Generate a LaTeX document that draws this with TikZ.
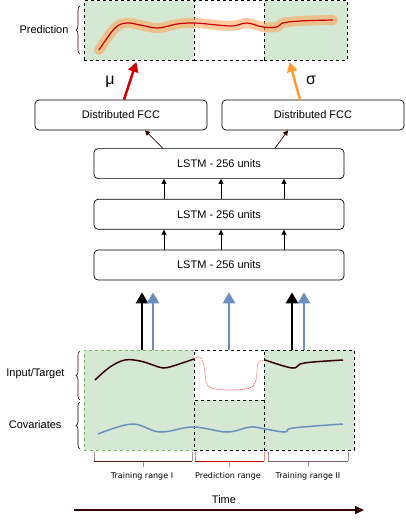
\documentclass[tikz,border=0pt]{standalone}
\usepackage{fontspec}
\setmainfont{Liberation Sans}
\newfontfamily\rangefont{DejaVu Sans}
\usetikzlibrary{arrows.meta, positioning, decorations.pathreplacing}
\definecolor{rangegreen}{HTML}{D5E8D4}
\definecolor{greenedge}{HTML}{82B366}
\definecolor{covblue}{HTML}{6C8EBF}
\definecolor{darkbrown}{HTML}{330000}
\definecolor{predred}{HTML}{CC0000}
\definecolor{sigorange}{HTML}{FF9933}
\definecolor{bandtan}{HTML}{FFA050}
\definecolor{trainbar}{HTML}{4D1A1A}
\definecolor{trainbarII}{HTML}{806060}
\tikzset{
    layer/.style={rectangle, draw, fill=white, rounded corners=4pt, minimum width=250pt, minimum height=30pt, inner sep=0pt, line width=0.7pt, font=\fontsize{11}{13}\selectfont},
    fcc/.style={layer, minimum width=172pt},
    region/.style={rectangle, draw, dashed, inner sep=0pt, outer sep=0pt, anchor=north west, line width=0.6pt},
    regiongreen/.style={region, fill=rangegreen},
    sidelab/.style={font=\fontsize{11}{13}\selectfont, anchor=east},
    rangelab/.style={font=\rangefont\fontsize{8}{10}\selectfont},
    arr/.style={-{Triangle[length=5pt, width=5pt]}, line width=0.7pt},
    fatarr/.style={-{Triangle[length=11pt, width=12pt]}, line width=2.5pt, shorten >=12pt},
    outarr/.style={-{Triangle[length=10pt, width=10pt]}, line width=2.5pt, shorten >=2pt},
    brace/.style={decorate, decoration={brace, amplitude=4pt}, darkbrown, line width=0.6pt},
    rangebar/.style={line width=0.8pt},
}

\begin{document}
\begin{tikzpicture}[x=1pt, y=-1pt]
\useasboundingbox (0,0) rectangle (406,520);

% ── Prediction panel ──
\node[regiongreen, minimum width=110pt, minimum height=59.5pt] (predL) at (84,0.5) {};
\node[region, minimum width=70pt, minimum height=59.5pt] (predM) at (194,0.5) {};
\node[regiongreen, minimum width=83pt, minimum height=59.5pt] (predR) at (264,0.5) {};
\draw[bandtan, opacity=0.55, line width=10pt, line cap=round] plot[smooth, tension=0.6] coordinates {(99,50) (115,28) (127,23) (140,25) (158,28) (177,24) (195,23) (217,25) (233,26) (247,23) (263,27) (277,27) (283,23) (300,21) (333,20)};
\draw[predred, line width=1.2pt] plot[smooth, tension=0.6] coordinates {(99,50) (115,28) (127,23) (140,25) (158,28) (177,24) (195,23) (217,25) (233,26) (247,23) (263,27) (277,27) (283,23) (300,21) (333,20)};
\draw[brace] (80,54) -- (80,6);
\node[sidelab] (predlab) at (72,30) {Prediction};

% ── Output layers ──
\node[fcc] (fccL) at (121,115) {Distributed FCC};
\node[fcc, minimum width=182pt] (fccR) at (313,115) {Distributed FCC};

% ── LSTM stack ──
\node[layer] (lstmA) at (219,265) {LSTM - 256 units};
\node[layer, above=20pt of lstmA] (lstmB) {LSTM - 256 units};
\node[layer, above=20pt of lstmB] (lstmC) {LSTM - 256 units};

\foreach \dx in {-55,2,65} {
    \draw[arr] ([xshift=\dx pt]lstmA.north) -- ([xshift=\dx pt]lstmB.south);
    \draw[arr] ([xshift=\dx pt]lstmB.north) -- ([xshift=\dx pt]lstmC.south);
}
\draw[arr, darkbrown] ([xshift=-56pt]lstmC.north) -- ([xshift=24pt]fccL.south);
\draw[arr, darkbrown] ([xshift=56pt]lstmC.north) -- ([xshift=-25pt]fccR.south);

% ── mu / sigma ──
\draw[outarr, predred] ([xshift=3pt]fccL.north) -- ([xshift=-2pt]predL.south);
\draw[outarr, sigorange] ([xshift=-13pt]fccR.north) -- ([xshift=-16.5pt]predR.south);
\node[font=\fontsize{16}{16}\selectfont] (mu) at (110,82) {μ};
\node[font=\fontsize{16}{16}\selectfont] (sigma) at (311,80) {σ};

% ── Input panel ──
\node[regiongreen, draw=greenedge, minimum width=110pt, minimum height=100pt] (inL) at (84,350) {};
\node[region, fill=white, minimum width=70pt, minimum height=50pt] (inM) at (194,350) {};
\node[regiongreen, minimum width=70pt, minimum height=50pt] (covM) at (194,400) {};
\node[regiongreen, minimum width=90pt, minimum height=100pt] (inR) at (264,350) {};

% target / covariates
\draw[darkbrown, line width=1.5pt] plot[smooth, tension=0.6] coordinates {(95,380) (110,367) (125,360) (140,361) (153,365) (163,368) (173,366) (194,359)};
\draw[red!75, line width=0.7pt, dash pattern=on 1pt off 1pt] plot[smooth, tension=0.5] coordinates {(194,359) (200,357) (204,366) (208,386) (227,390) (250,388) (256,380) (258,363) (265,360)};
\draw[darkbrown, line width=1.5pt] plot[smooth, tension=0.6] coordinates {(265,360) (292,368) (300,364) (313,362) (343,360)};
\draw[covblue, line width=1.5pt] plot[smooth, tension=0.6] coordinates {(98,434) (132,424) (160,432) (193,427) (227,432) (250,427) (265,429) (285,432) (293,428) (343,424)};

\draw[brace] (80,400) -- (80,351);
\draw[brace, black] (80,449) -- (80,402);
\node[sidelab] (inlab) at (68,374) {Input/Target};
\node[sidelab] (covlab) at (65,425) {Covariates};

% ── Inputs into the LSTM ──
\draw[fatarr, black] ([xshift=3pt]inL.north) -- ([xshift=3pt]inL.north |- lstmA.south);
\draw[fatarr, covblue] ([xshift=14pt]inL.north) -- ([xshift=14pt]inL.north |- lstmA.south);
\draw[fatarr, covblue] (inM.north) -- (inM.north |- lstmA.south);
\draw[fatarr, black] ([xshift=-17pt]inR.north) -- ([xshift=-17pt]inR.north |- lstmA.south);
\draw[fatarr, covblue] ([xshift=-5pt]inR.north) -- ([xshift=-5pt]inR.north |- lstmA.south);

% ── Ranges ──
\draw[rangebar, trainbar!50] (94,452) -- (94,461) (192,461) -- (192,452) (143,461) -- (143,467);
\draw[rangebar, trainbar] (94,461) -- (192,461);
\draw[rangebar, red!50] (195,452) -- (195,461) (264,461) -- (264,452) (229,461) -- (229,467);
\draw[rangebar, predred] (195,461) -- (264,461);
\draw[rangebar, trainbarII!70] (268,452) -- (268,461) (348,461) -- (348,452) (308,461) -- (308,467);
\draw[rangebar, trainbarII] (268,461) -- (348,461);
\node[rangelab] (trainI) at (142,476) {Training range I};
\node[rangelab] (predrange) at (228,476) {Prediction range};
\node[rangelab] (trainII) at (308,476) {Training range II};

% ── Time ──
\node[font=\fontsize{11}{13}\selectfont] (time) at (224,500) {Time};
\coordinate (t0) at (74,510);
\coordinate (t1) at (364,510);
\draw[-{Triangle[length=9pt, width=8pt]}, darkbrown, line width=1.5pt] (t0) -- (t1);

\end{tikzpicture}
\end{document}
